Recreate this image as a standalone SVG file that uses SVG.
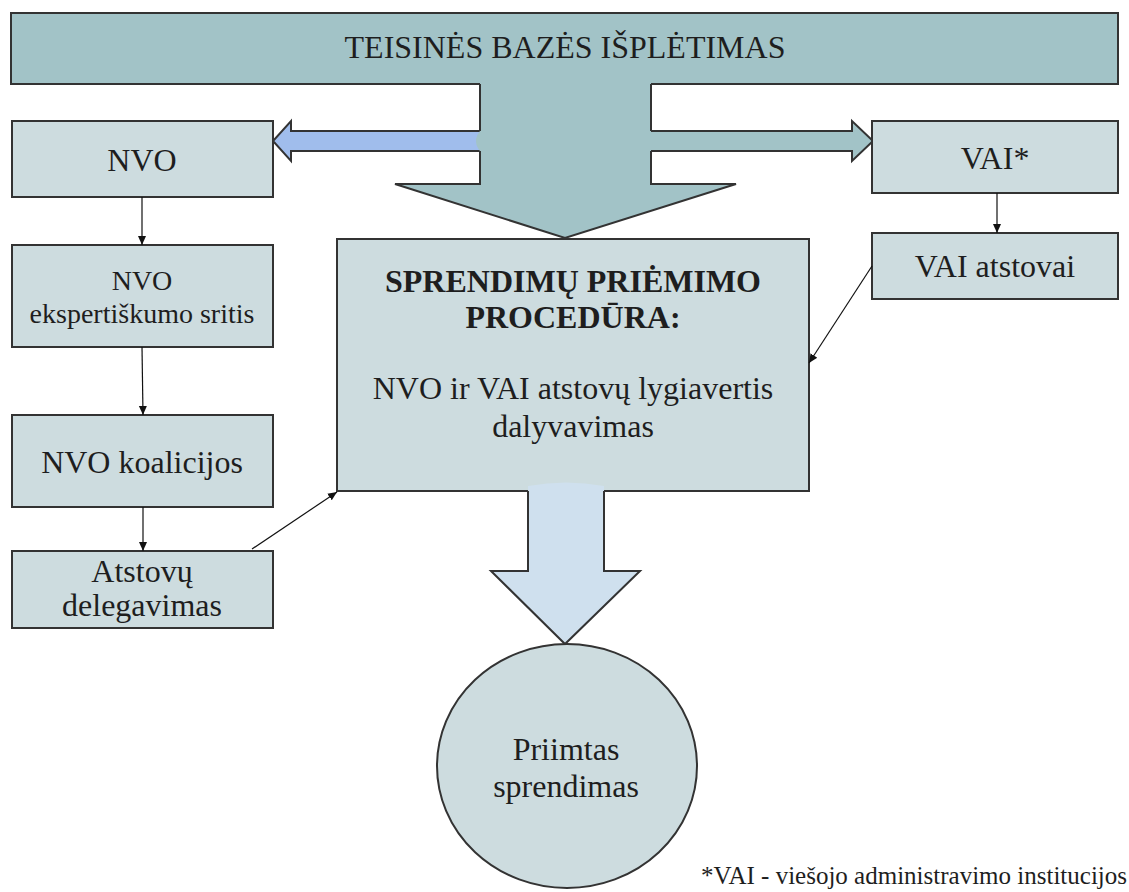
<svg xmlns="http://www.w3.org/2000/svg" width="1129" height="892" viewBox="0 0 1129 892">
<style>
text{fill:#1e1e1e;text-anchor:middle}
.t32{font-size:32px}
.t28{font-size:28px}
.b{font-weight:bold}
.box{fill:#cddcdf;stroke:#333;stroke-width:2}
.ln{fill:none;stroke:#333;stroke-width:2;stroke-linejoin:miter}
.con{fill:none;stroke:#111;stroke-width:1.2}
</style>
<defs>
<marker id="ah" markerUnits="userSpaceOnUse" markerWidth="10" markerHeight="10" refX="9" refY="5" orient="auto">
<path d="M0,1 L9,5 L0,9 Z" fill="#111"/>
</marker>
</defs>
<g font-family="'Liberation Serif', 'Times New Roman', Tinos, serif">
<g id="top">
<rect x="11" y="13" width="1107" height="71" fill="#a2c3c7" stroke="#333" stroke-width="2"/>
<text class="t32" x="565" y="58">TEISINĖS BAZĖS IŠPLĖTIMAS</text>
</g>
<g id="arrows">
<path d="M482,131 L291,131 L291,121 L273,141 L291,161 L291,151 L482,151 Z" fill="#a0bdec"/>
<polyline class="ln" points="480,131 291,131 291,121 273,141 291,161 291,151 480,151"/>
<path d="M649,131 L852,131 L852,121 L873,141 L852,161 L852,151 L649,151 Z" fill="#a2c3c7"/>
<polyline class="ln" points="651,131 852,131 852,121 873,141 852,161 852,151 651,151"/>
<path d="M480,83 L651,83 L651,184 L736,184 L565,238 L395,184 L480,184 L480,151 Q472,141 480,131 Z" fill="#a2c3c7"/>
<polyline class="ln" points="480,84 480,131"/>
<polyline class="ln" points="480,151 480,184 395,184 565,238 736,184 651,184 651,151"/>
<polyline class="ln" points="651,131 651,84"/>
</g>
<g id="nvo">
<rect class="box" x="12" y="121" width="261" height="76"/>
<text class="t32" x="142" y="171">NVO</text>
</g>
<g id="vai">
<rect class="box" x="872" y="121" width="246" height="72"/>
<text class="t32" x="995" y="169">VAI*</text>
</g>
<g id="nvo-expert">
<rect class="box" x="12" y="245" width="261" height="102"/>
<text class="t28" x="142" y="290">NVO</text>
<text class="t28" x="142" y="323">ekspertiškumo sritis</text>
</g>
<g id="nvo-koalicijos">
<rect class="box" x="12" y="415" width="261" height="92"/>
<text class="t32" x="142" y="473">NVO koalicijos</text>
</g>
<g id="atstovu">
<rect class="box" x="12" y="551" width="261" height="77"/>
<text class="t32" x="142" y="582">Atstovų</text>
<text class="t32" x="142" y="616">delegavimas</text>
</g>
<g id="vai-atstovai">
<rect class="box" x="872" y="233" width="246" height="66"/>
<text class="t32" x="995" y="277">VAI atstovai</text>
</g>
<g id="main">
<rect class="box" x="337" y="239" width="472" height="252"/>
<text class="t32 b" x="573" y="292">SPRENDIMŲ PRIĖMIMO</text>
<text class="t32 b" x="573" y="328">PROCEDŪRA:</text>
<text class="t32" x="573" y="399">NVO ir VAI atstovų lygiavertis</text>
<text class="t32" x="573" y="437">dalyvavimas</text>
</g>
<g id="down-arrow">
<path d="M528,491 L528,486 Q566,479 604,486 L604,571 L640,571 L565,644 L491,571 L528,571 Z" fill="#cfe0ee"/>
<polyline class="ln" points="528,491 528,571 491,571 565,644 640,571 604,571 604,491"/>
</g>
<g id="decision">
<ellipse cx="567" cy="766" rx="130" ry="122" fill="#cddcdf" stroke="#333" stroke-width="2"/>
<text class="t32" x="566" y="760">Priimtas</text>
<text class="t32" x="566" y="797">sprendimas</text>
</g>
<g id="connectors">
<line class="con" x1="142" y1="197" x2="142" y2="245" marker-end="url(#ah)"/>
<line class="con" x1="142" y1="347" x2="143" y2="415" marker-end="url(#ah)"/>
<line class="con" x1="143" y1="507" x2="143" y2="551" marker-end="url(#ah)"/>
<line class="con" x1="252" y1="549" x2="337" y2="492" marker-end="url(#ah)"/>
<line class="con" x1="997" y1="193" x2="997" y2="233" marker-end="url(#ah)"/>
<line class="con" x1="872" y1="266" x2="809" y2="363" marker-end="url(#ah)"/>
</g>
<g id="footnote">
<text x="1127" y="884" style="font-size:25px;text-anchor:end">*VAI - viešojo administravimo institucijos</text>
</g>
</g>
</svg>
